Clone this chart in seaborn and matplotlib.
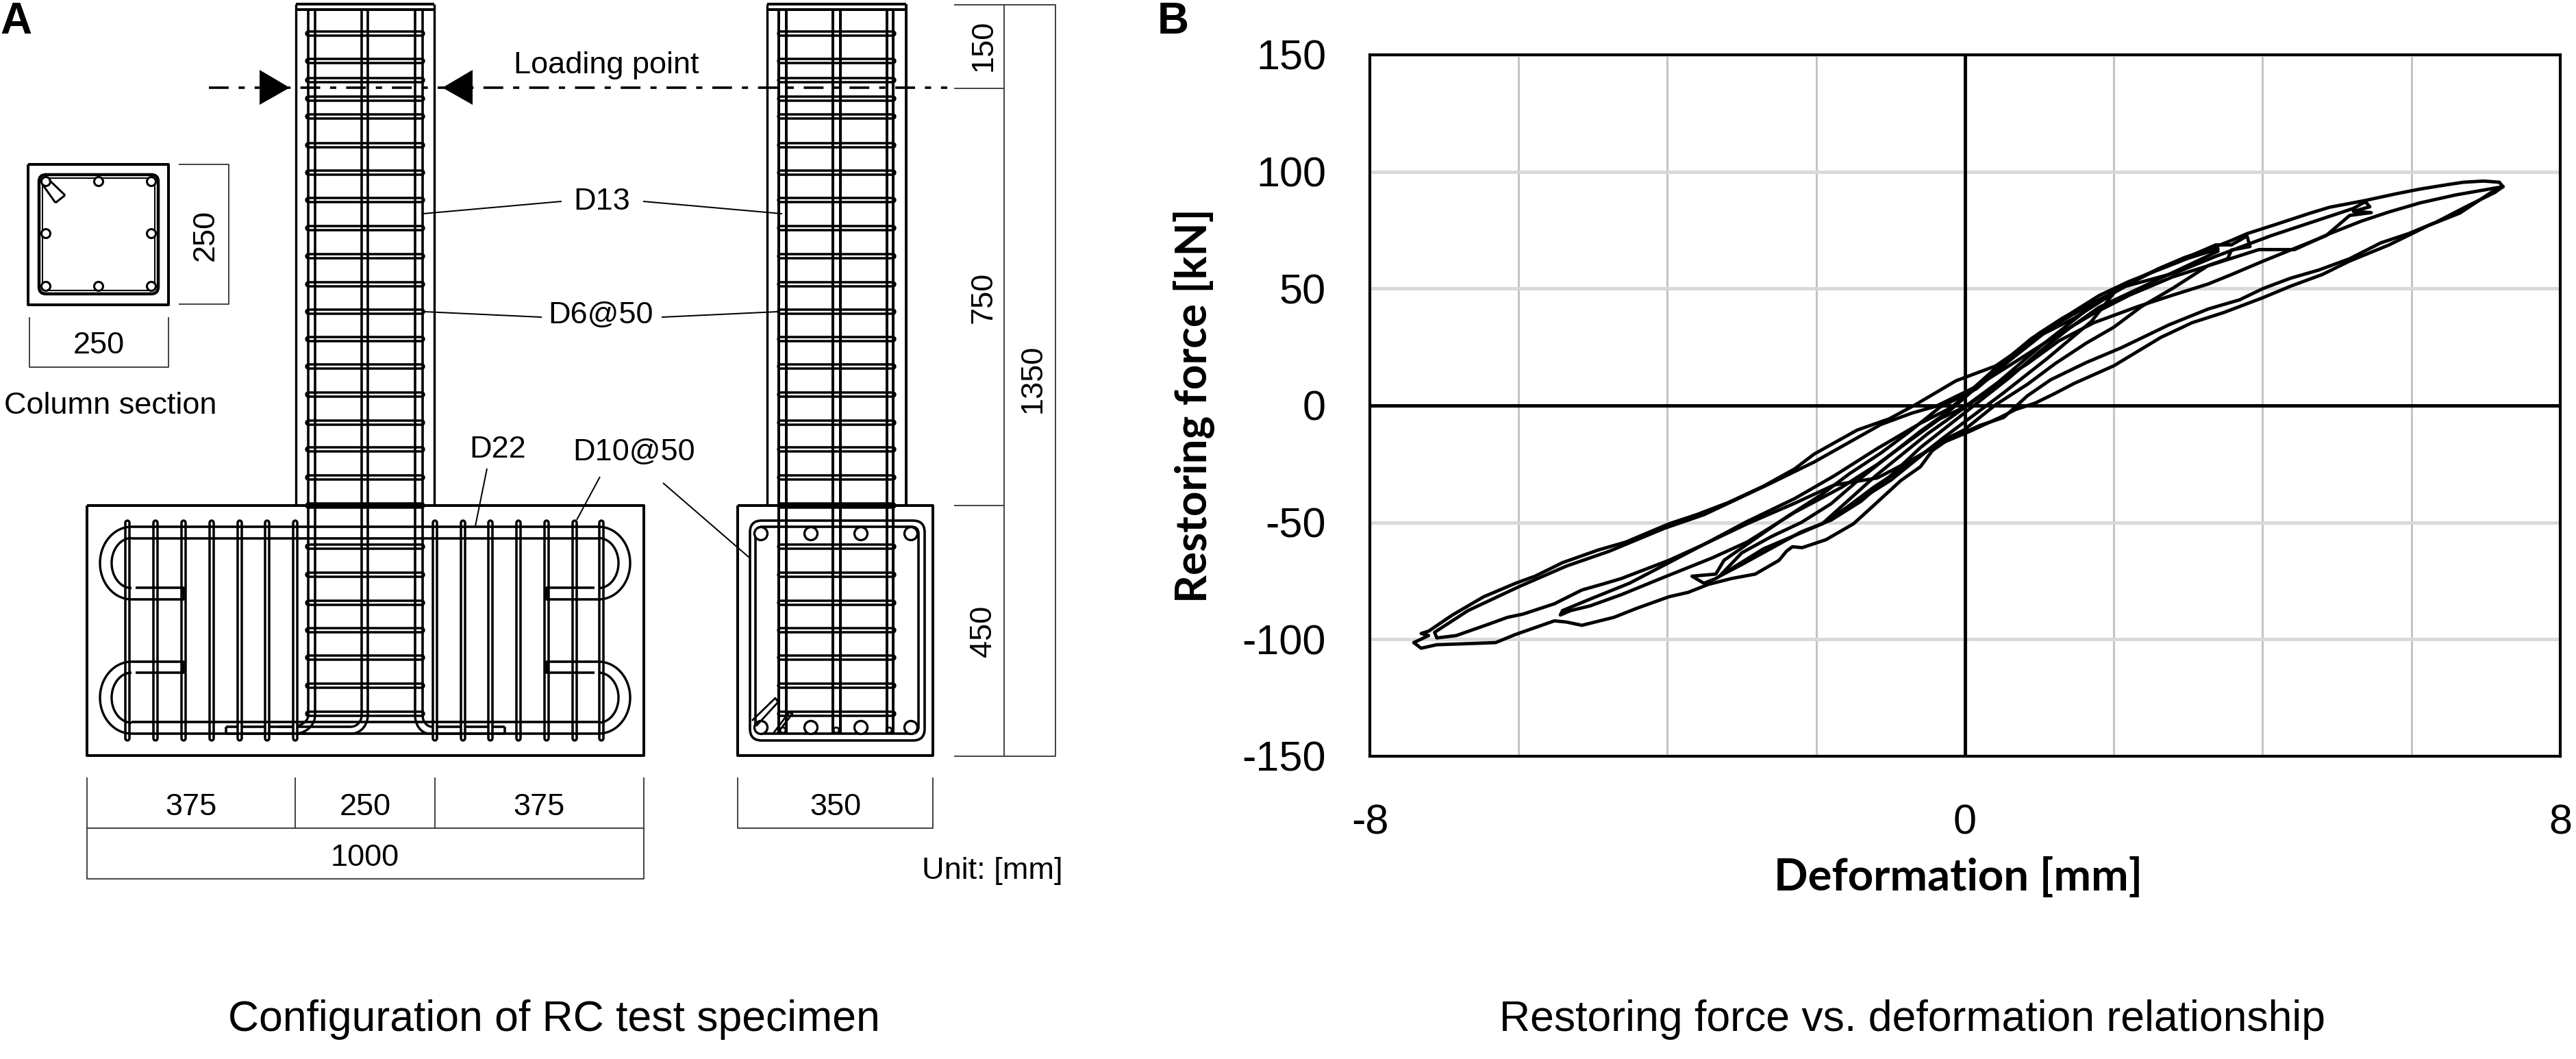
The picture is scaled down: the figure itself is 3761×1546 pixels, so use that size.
import numpy as np
import pandas as pd
import matplotlib
matplotlib.use("Agg")
import matplotlib.pyplot as plt
from matplotlib.patches import Circle, FancyBboxPatch, Polygon
import seaborn as sns

# Hysteresis curves: deformation [mm], restoring force [kN]
cycle7a_x = [7.23, 7.12, 6.75, 6.33, 5.96, 5.59, 5.17, 4.75, 4.38, 4.01, 3.69, 3.27, 2.74, 2.10, 1.63, 1.15, 0.84, 0.52, 0.20, 0.0,
             -0.18, -0.44, -0.60, -0.86, -1.23, -1.50, -1.87, -2.19, -2.32, -2.40, -2.50, -2.82, -3.14, -3.45, -3.72, -3.98, -4.41, -4.72, -5.15, -5.36,
             -5.52, -6.04, -6.31, -6.73, -7.10, -7.31, -7.41, -7.21, -7.31, -7.21, -6.89, -6.47, -6.04, -5.78, -5.41, -4.93, -4.56, -3.98, -3.61, -3.19,
             -2.71, -2.29, -2.03, -1.45, -1.02, -0.67, -0.12, 0.41, 0.68, 0.99, 1.31, 1.58, 1.95, 2.21, 2.63, 2.95, 3.27, 3.58, 3.79, 4.22,
             4.64, 4.90, 5.38, 5.80, 6.12, 6.49, 6.70, 6.97, 7.18, 7.23]
cycle7a_y = [93.6, 91.1, 85.3, 78.4, 73.5, 69.6, 62.8, 57.9, 54.5, 50.1, 45.2, 41.3, 34.5, 24.7, 18.4, 11.0, 4.2, -5.1, -8.5, -11.4,
             -13.5, -19.3, -26.2, -32.0, -42.8, -50.6, -57.4, -60.8, -60.4, -62.3, -66.2, -72.1, -74.0, -76.5, -79.9, -81.8, -86.7, -90.6, -94.0, -92.6,
             -92.1, -97.9, -101.4, -101.9, -102.3, -103.8, -101.4, -98.4, -97.5, -96.5, -89.6, -81.8, -76.0, -73.0, -67.2, -61.8, -58.4, -50.6, -46.7, -41.6,
             -34.5, -27.1, -20.8, -10.5, -5.7, 0.3, 10.6, 16.9, 22.8, 30.6, 36.4, 41.3, 47.2, 52.1, 58.9, 63.3, 66.7, 70.6, 73.5, 77.9,
             82.3, 84.8, 87.7, 90.6, 92.6, 94.5, 95.5, 96.0, 95.5, 93.6]

cycle7b_x = [7.23, 7.07, 6.65, 6.23, 5.70, 5.17, 4.80, 4.38, 4.01, 3.48, 3.05, 2.63, 2.00, 1.47, 1.21, 0.94, 0.68, 0.47, 0.04,
             -0.34, -0.76, -1.18, -1.76, -2.29, -2.93, -3.51, -3.98, -4.62, -4.83, -5.15, -5.52, -5.94, -6.15, -6.41, -6.84, -7.10, -7.13,
             -6.68, -5.99, -5.36, -4.78, -4.04, -3.51, -2.66, -2.03, -1.13, -0.71, -0.39, 0.15, 0.68, 1.21, 1.73, 2.21, 2.79, 3.37, 3.95,
             4.43, 4.90, 5.33, 5.70, 6.12, 6.60, 7.23]
cycle7b_y = [93.6, 91.1, 82.3, 77.0, 68.7, 61.8, 56.0, 51.1, 46.2, 39.8, 35.4, 29.1, 17.0, 9.5, 5.2, 1.0, -1.7, -5.1, -11.4,
             -16.4, -24.0, -31.0, -34.0, -41.8, -50.6, -59.4, -66.2, -74.0, -76.0, -78.9, -84.8, -89.2, -90.6, -93.6, -98.4, -99.4, -97.0,
             -87.7, -77.4, -68.7, -62.3, -52.5, -46.7, -34.0, -24.2, -8.1, -3.2, -0.3, 8.1, 18.8, 29.6, 39.4, 47.2, 55.0, 60.8, 66.7,
             66.7, 73.5, 78.9, 82.8, 86.7, 90.1, 93.6]

cycle5_x = [5.38, 5.44, 5.22, 5.46, 5.17, 4.85, 4.43, 4.01, 3.58, 3.27, 2.79, 2.32, 1.73, 1.26, 0.84, 0.41, -0.01,
            -0.34, -0.76, -1.18, -1.66, -2.29, -2.93, -3.40, -4.09, -4.62, -5.04, -5.30, -5.44, -5.41, -5.04, -4.51, -3.98, -3.45, -2.93,
            -2.29, -1.76, -1.18, -0.60, -0.18, 0.41, 0.89, 1.31, 1.73, 2.16, 2.84, 3.37, 4.11, 4.85, 5.22, 5.38]
cycle5_y = [87.2, 85.0, 83.0, 82.5, 81.3, 72.6, 67.2, 61.8, 56.0, 52.0, 47.2, 42.3, 35.4, 27.6, 17.9, 9.1, -0.7,
            -5.7, -15.4, -25.2, -35.0, -45.7, -58.4, -65.2, -74.0, -80.9, -85.7, -87.7, -89.6, -87.7, -82.8, -76.0, -67.2, -58.4, -49.6,
            -39.8, -30.1, -18.4, -7.6, -0.8, 15.9, 28.6, 37.4, 44.2, 51.0, 56.9, 63.8, 72.6, 80.4, 84.3, 87.2]

cycle3_x = [3.58, 3.79, 3.83, 3.58, 3.53, 3.27, 2.79, 2.37, 2.00, 1.63, 1.21, 0.84, 0.41, -0.01,
            -0.39, -0.76, -1.23, -1.60, -1.92, -2.71, -3.06, -3.35, -3.51, -3.67, -3.35, -3.24, -2.71, -2.40, -1.92, -1.55, -1.13, -0.76, -0.34,
            0.15, 0.62, 1.05, 1.47, 1.84, 2.10, 2.63, 3.05, 3.37, 3.58]
cycle3_y = [68.7, 72.5, 68.0, 66.5, 62.8, 59.9, 50.1, 42.3, 33.5, 26.7, 17.9, 9.1, 0.3, -10.4,
            -16.4, -25.2, -35.0, -43.8, -50.6, -61.3, -68.2, -74.0, -76.0, -73.0, -72.1, -66.2, -54.5, -47.7, -37.9, -29.1, -20.3, -11.5, -0.8,
            7.1, 19.8, 30.6, 37.4, 45.2, 51.1, 58.9, 64.3, 68.7, 68.7]

cycle3b_x = [3.4, 3.0, 2.6, 2.2, 1.8, 1.4, 1.0, 0.6, 0.2, -0.2, -0.6, -1.0, -1.4, -1.8, -2.2, -2.6, -3.0, -3.3,
             -3.0, -2.6, -2.2, -1.8, -1.4, -1.0, -0.6, -0.2, 0.2, 0.6, 1.0, 1.4, 1.8, 2.2, 2.6, 3.0, 3.4]
cycle3b_y = [66, 60, 54, 48, 42, 33, 23, 12, 2, -8, -18, -30, -41, -49, -54, -61, -68, -73,
             -63, -56, -50, -42, -31, -21, -11, -2, 9, 20, 31, 39, 47, 53, 58, 63, 67]

cycle2_x = [-1.92, -1.20, -0.50, 0.30, 1.00, 1.60, 2.00, 1.70, 1.10, 0.50, -0.30, -1.00, -1.60, -1.92]
cycle2_y = [-50.6, -30.0, -12.0, 6.0, 25.0, 40.0, 48.1, 36.0, 20.0, 5.0, -14.0, -32.0, -44.0, -50.6]

x_ticks = [-8, -6, -4, -2, 0, 2, 4, 6, 8]
x_labels = ["-8", "", "", "", "0", "", "", "", "8"]
y_ticks = [-150, -100, -50, 0, 50, 100, 150]
y_labels = ["-150", "-100", "-50", "0", "50", "100", "150"]

# Specimen drawing, positions in image pixels
tie_y = [49, 89, 117, 144, 170, 212, 252, 292, 333, 374, 415, 455, 495, 535, 576, 617, 656, 697, 738, 798, 839, 880, 920, 960, 1001, 1042]
base_tie_x = [186, 227, 268, 309, 350, 390, 431, 635, 676, 716, 757, 798, 839, 878]
side_bar_x = [1137, 1148, 1216, 1227, 1295, 1304]
side_main_x = [1111, 1184, 1257, 1330]
section_x = [67, 144, 221]
section_y = [265, 341, 418]


def load_curves():
    frames = []
    for name, xs, ys in [("7a", cycle7a_x, cycle7a_y), ("7b", cycle7b_x, cycle7b_y),
                         ("5", cycle5_x, cycle5_y), ("3", cycle3_x, cycle3_y),
                         ("3b", cycle3b_x, cycle3b_y), ("2", cycle2_x, cycle2_y)]:
        frames.append(pd.DataFrame({"cycle": name, "Deformation": xs, "Force": ys}))
    return pd.concat(frames, ignore_index=True)


def line(ax, xs, ys, w=3.6, color="black", **kw):
    ax.plot(xs, ys, color=color, lw=w * 0.72, solid_capstyle=kw.pop("cap", "butt"), **kw)


def double_bar(ax, x0, y0, x1, y1):
    line(ax, [x0, x1], [y0, y1], 9.5, cap="round")
    line(ax, [x0, x1], [y0, y1], 2.5, color="white", cap="round")


def rounded(ax, x0, y0, x1, y1, r, w=3.6):
    ax.add_patch(FancyBboxPatch((x0, y0), x1 - x0, y1 - y0, boxstyle=f"round,pad=0,rounding_size={r}",
                                fc="none", ec="black", lw=w * 0.72))


def label(ax, x, y, s, rot=0, ha="center", size=32.5):
    ax.text(x, y + 2, s, ha=ha, va="center", rotation=rot, fontsize=size, family="Liberation Sans", color="black")


def arc(ax, cx, cy, rx, ry, a0, a1):
    t = np.radians(np.linspace(a0, a1, 60))
    line(ax, cx + rx * np.cos(t), cy + ry * np.sin(t), 3.4)


def draw_section(ax):
    line(ax, [41, 246, 246, 41, 41], [240, 240, 445, 445, 240], 4)
    rounded(ax, 57, 255, 231, 429, 10, 4.5)
    rounded(ax, 62, 260, 226, 424, 7, 2.0)
    for x in section_x:
        for y in section_y:
            if x == 144 and y == 341:
                continue
            ax.add_patch(Circle((x, y), 6.5, fc="white", ec="black", lw=2.2))
    line(ax, [64, 81], [272, 296], 3)
    line(ax, [72, 95], [263, 285], 3)
    line(ax, [81, 95], [296, 285], 3)
    line(ax, [261, 334, 334, 261], [240, 240, 444, 444], 1.8, color="#333333")
    line(ax, [43, 43, 246, 246], [463, 536, 536, 463], 1.8, color="#333333")
    label(ax, 300, 341, "250", rot=90)
    label(ax, 144, 503, "250")
    label(ax, 161, 591, "Column section")


def draw_front(ax):
    line(ax, [432, 432], [6, 738], 3.4)
    line(ax, [634, 634], [6, 738], 3.4)
    line(ax, [432, 634], [6, 6], 4)
    line(ax, [432, 634], [14, 14], 4)
    for y in tie_y:
        double_bar(ax, 450, y, 616, y)
    # longitudinal bars with bent ends
    line(ax, [450, 450], [14, 1044])
    line(ax, [460, 460], [14, 1044])
    arc(ax, 425, 1044, 25, 17, 0, 90)
    arc(ax, 430, 1044, 30, 27, 0, 90)
    line(ax, [330, 425], [1061, 1061])
    line(ax, [330, 430], [1071, 1071])
    line(ax, [330, 330], [1061, 1071])
    line(ax, [528, 528], [14, 1044])
    line(ax, [537, 537], [14, 1044])
    arc(ax, 512, 1044, 16, 17, 0, 90)
    arc(ax, 513, 1044, 24, 27, 0, 90)
    line(ax, [406, 512], [1061, 1061])
    line(ax, [406, 513], [1071, 1071])
    line(ax, [606, 606], [14, 1044])
    line(ax, [617, 617], [14, 1044])
    arc(ax, 627, 1044, 21, 27, 90, 180)
    arc(ax, 631, 1044, 14, 17, 90, 180)
    line(ax, [627, 737], [1071, 1071])
    line(ax, [631, 737], [1061, 1061])
    line(ax, [737, 737], [1061, 1071])

    # footing
    line(ax, [127, 940, 940, 127, 127], [738, 738, 1103, 1103, 738], 4)
    for x in base_tie_x:
        double_bar(ax, x, 763, x, 1078)
    for mirror in [False, True]:
        mx = (lambda v: 1066 - v) if mirror else (lambda v: v)
        sgn = -1 if mirror else 1
        arc(ax, mx(192), 822, sgn * 46, 53, 90, 270)
        arc(ax, mx(192), 822, sgn * 29, 36.5, 90, 270)
        arc(ax, mx(192), 1018.5, sgn * 46, 52.5, 90, 270)
        arc(ax, mx(192), 1018.5, sgn * 29, 36.5, 90, 270)
        line(ax, [mx(192), mx(268), mx(268), mx(198)], [875, 875, 858, 858])
        line(ax, [mx(192), mx(268), mx(268), mx(198)], [966, 966, 982, 982])
    line(ax, [192, 874], [769, 769])
    line(ax, [192, 874], [786, 786])
    line(ax, [192, 874], [1054, 1054])
    line(ax, [192, 874], [1071, 1071])

    # dimensions under the footing
    for x in [127, 431, 635, 940]:
        line(ax, [x, x], [1135, 1209], 1.8, color="#333333")
    line(ax, [127, 940], [1209, 1209], 1.8, color="#333333")
    line(ax, [127, 127, 940, 940], [1209, 1283, 1283, 1209], 1.8, color="#333333")
    label(ax, 279, 1176, "375")
    label(ax, 533, 1176, "250")
    label(ax, 787, 1176, "375")
    label(ax, 533, 1250, "1000")


def draw_side(ax):
    line(ax, [1120, 1120], [6, 738], 3.4)
    line(ax, [1323, 1323], [6, 738], 4)
    line(ax, [1120, 1323], [6, 6], 4)
    line(ax, [1120, 1323], [14, 14], 4)
    for y in tie_y:
        double_bar(ax, 1139, y, 1304, y)
    for x in side_bar_x:
        line(ax, [x, x], [14, 1071], 4)
    line(ax, [1077, 1362, 1362, 1077, 1077], [738, 738, 1103, 1103, 738], 4)
    rounded(ax, 1095, 760, 1350, 1081, 17)
    rounded(ax, 1103, 769, 1341, 1071, 10)
    for x in side_main_x:
        for y in [779, 1062]:
            ax.add_patch(Circle((x, y), 9.5, fc="white", ec="black", lw=2.4))
    for x in [1143, 1221, 1298]:
        ax.add_patch(Circle((x, 1066), 4, fc="white", ec="black", lw=2.0))
    line(ax, [1098, 1132, 1136, 1104], [1052, 1019, 1025, 1060], 2.8)
    line(ax, [1128, 1152, 1157, 1135], [1072, 1040, 1042, 1070], 2.8)

    # dimensions on the right
    line(ax, [1393, 1541, 1541, 1393], [7, 7, 1104, 1104], 1.8, color="#333333")
    line(ax, [1466, 1466], [7, 1104], 1.8, color="#333333")
    line(ax, [1393, 1466], [129, 129], 1.8, color="#333333")
    line(ax, [1393, 1466], [738, 738], 1.8, color="#333333")
    label(ax, 1436, 64, "150", rot=90)
    label(ax, 1436, 432, "750", rot=90)
    label(ax, 1508, 551, "1350", rot=90)
    label(ax, 1436, 919, "450", rot=90)
    line(ax, [1077, 1077, 1362, 1362], [1135, 1209, 1209, 1135], 1.8, color="#333333")
    label(ax, 1220, 1176, "350")
    label(ax, 1346, 1270, "Unit: [mm]", ha="left")


def draw_notes(ax):
    # loading line and arrows
    ax.plot([305, 1383], [128, 128], color="black", lw=2.6, linestyle=(0, (8, 4, 2.5, 4)), zorder=3)
    ax.add_patch(Polygon([[379, 102], [379, 153], [423, 128]], fc="black", ec="none", zorder=5))
    ax.add_patch(Polygon([[690, 102], [690, 153], [646, 128]], fc="black", ec="none", zorder=5))
    label(ax, 885, 93, "Loading point")
    label(ax, 879, 293, "D13")
    label(ax, 877, 458, "D6@50")
    label(ax, 727, 654, "D22")
    label(ax, 926, 658, "D10@50")
    line(ax, [617, 820], [312, 294], 2)
    line(ax, [939, 1142], [294, 312], 2)
    line(ax, [619, 791], [455, 463], 2)
    line(ax, [966, 1136], [463, 455], 2)
    line(ax, [711, 694], [684, 768], 2)
    line(ax, [876, 842], [696, 759], 2)
    line(ax, [968, 1094], [705, 814], 2)
    label(ax, 809, 1486, "Configuration of RC test specimen", size=45)
    label(ax, 2792, 1486, "Restoring force vs. deformation relationship", size=45)
    ax.text(23, 32, "A", ha="center", va="center", fontsize=46, fontweight="bold", family="Liberation Sans", color="black")
    ax.text(1713, 32, "B", ha="center", va="center", fontsize=46, fontweight="bold", family="Liberation Sans", color="black")


def main():
    sns.set_theme(style="white")
    plt.rcParams["font.family"] = ["Liberation Sans", "DejaVu Sans"]

    fig = plt.figure(figsize=(37.62, 15.46), dpi=100, facecolor="white")

    sketch = fig.add_axes([0, 0, 1, 1])
    sketch.set_xlim(0, 3762)
    sketch.set_ylim(1546, 0)
    sketch.axis("off")
    draw_section(sketch)
    draw_front(sketch)
    draw_side(sketch)
    draw_notes(sketch)

    ax = fig.add_axes([2000 / 3762, 1 - 1104 / 1546, 1738 / 3762, 1024 / 1546])
    ax.set_axisbelow(True)
    ax.grid(axis="x", color="#c4c4c4", lw=2.2)
    ax.grid(axis="y", color="#d9d9d9", lw=3.6)
    ax.axhline(0, color="black", lw=3.6, zorder=1.5)
    ax.axvline(0, color="black", lw=3.6, zorder=1.5)
    sns.lineplot(data=load_curves(), x="Deformation", y="Force", units="cycle", estimator=None, sort=False,
                 color="black", lw=3.5, ax=ax, legend=False)
    ax.set_xlim(-8, 8)
    ax.set_ylim(-150, 150)
    ax.set_xticks(x_ticks)
    ax.set_xticklabels(x_labels)
    ax.set_yticks(y_ticks)
    ax.set_yticklabels(y_labels)
    ax.tick_params(axis="both", length=0, labelsize=44, labelcolor="black")
    ax.tick_params(axis="x", pad=50)
    ax.tick_params(axis="y", pad=46)
    ax.set_xlabel("Deformation [mm]", fontsize=47, fontweight="bold", family="Lato", color="black")
    ax.xaxis.set_label_coords(0.494, -0.1435)
    ax.set_ylabel("Restoring force [kN]", fontsize=46, fontweight="bold", family="Lato", labelpad=29, color="black")
    for spine in ax.spines.values():
        spine.set_color("black")
        spine.set_linewidth(3.0)

    fig.savefig("out.png", dpi=100)
    plt.close(fig)


if __name__ == "__main__":
    main()
